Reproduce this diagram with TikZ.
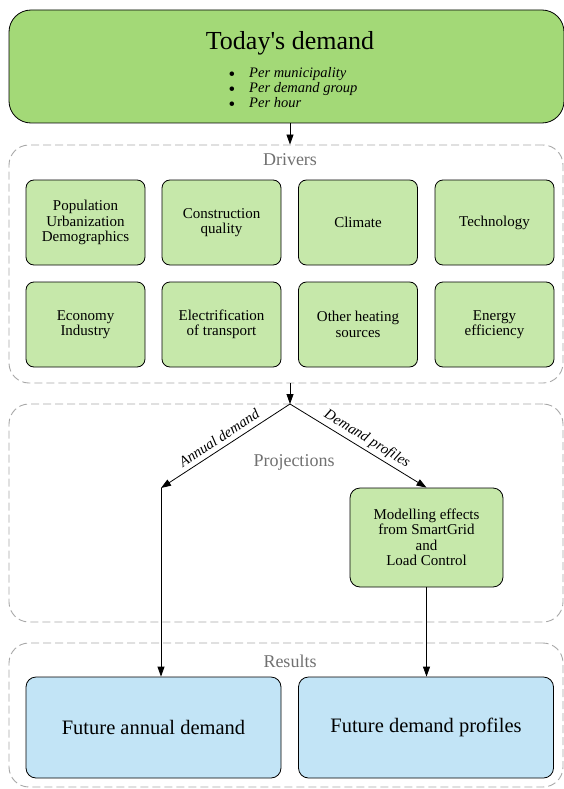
\documentclass[tikz,border=0pt]{standalone}
\usepackage{fontspec}
\setmainfont{Liberation Serif}
\newfontfamily\plainserif{Liberation Serif}
\usetikzlibrary{arrows.meta}
\definecolor{topgreen}{HTML}{A3D977}
\definecolor{drvgreen}{HTML}{C6E8AA}
\definecolor{resblue}{HTML}{C2E4F6}
\definecolor{clustergray}{HTML}{A8A8A8}
\definecolor{labelgray}{HTML}{707070}
% one bulleted line of the demand list
\newcommand{\demanditem}[1]{\makebox[20.5pt][l]{\raisebox{-2.5pt}{\fontsize{19}{15}\selectfont\textbullet}}\textit{#1}}
\begin{document}
\begin{tikzpicture}[x=1pt,y=-1pt,
  arr/.style={-{Triangle[length=10pt,width=7pt]}, line width=0.8pt},
  cluster/.style={draw=clustergray, dash pattern=on 8pt off 4pt, line width=0.9pt,
    rounded corners=20pt, minimum width=554pt, inner sep=0pt},
  clusterlabel/.style={text=labelgray, font=\fontsize{18}{20}\selectfont},
  drvbox/.style={draw, line width=0.8pt, fill=drvgreen, rounded corners=8pt,
    minimum width=119pt, minimum height=85pt, inner sep=0pt, align=center,
    font=\fontsize{15}{15.5}\selectfont},
  resbox/.style={draw, line width=0.8pt, fill=resblue, rounded corners=10pt,
    minimum width=255pt, minimum height=101pt, inner sep=0pt,
    font=\fontsize{20.5}{22}\selectfont},
  edgelabel/.style={font=\itshape\fontsize{14.7}{16}\selectfont, inner sep=0pt}
]
\useasboundingbox (0,0) rectangle (564,789);

% dashed clusters
\node[cluster, minimum height=238pt] (drivers) at (286,264) {};
\node[cluster, minimum height=218pt] (proj) at (286,513) {};
\node[cluster, minimum height=144pt] (results) at (286,715) {};
\node[clusterlabel] (drvlabel) at (290,160) {Drivers};
\node[clusterlabel] (projlabel) at (294,462) {Projections};
\node[clusterlabel] (reslabel) at (290,661) {Results};

% today's demand
\node[draw, line width=0.8pt, fill=topgreen, rounded corners=22pt,
  minimum width=555pt, minimum height=113pt, inner sep=0pt] (top) at (286.5,66.5) {};
\node[font=\plainserif\fontsize{26}{28}\selectfont] (title) at (290,43) {Today's demand};
\node[anchor=west, align=left, inner sep=0pt, font=\fontsize{14.5}{15}\selectfont] (list) at (228.5,89)
  {\demanditem{Per municipality}\\
   \demanditem{Per demand group}\\
   \demanditem{Per hour}};

% drivers
\node[drvbox] (pop) at (85.5,222.5) {Population\\Urbanization\\Demographics};
\node[drvbox] (constr) at (221.5,222.5) {Construction\\quality};
\node[drvbox] (climate) at (358,222.5) {Climate};
\node[drvbox] (tech) at (494.5,222.5) {Technology};
\node[drvbox] (econ) at (85.5,324.5) {Economy\\Industry};
\node[drvbox] (elec) at (221.5,324.5) {Electrification\\of transport};
\node[drvbox] (heat) at (358,324.5) {Other heating\\sources};
\node[drvbox] (eff) at (494.5,324.5) {Energy\\efficiency};

% projections
\coordinate (split) at (290,404);
\coordinate (annual) at (161,488);
\node[drvbox, minimum width=153pt, minimum height=99pt, rounded corners=10pt] (model)
  at (426.5,537.5) {Modelling effects\\from SmartGrid\\and\\Load Control};

% results
\node[resbox] (fad) at (153.5,727.5) {Future annual demand};
\node[resbox] (fdp) at (426,727.5) {Future demand profiles};

% connectors
\draw[arr] (top.south -| split) -- (drivers.north -| split);
\draw[arr] (drivers.south -| split) -- (split);
\draw[arr] (split) -- (annual);
\draw[arr] (split) -- (model.north);
\draw[arr] (annual) -- (fad.north -| annual);
\draw[arr] (model.south) -- (fdp.north -| model.south);

% connector labels
\node[edgelabel, rotate=33.3] (lannual) at (219,438) {Annual demand};
\node[edgelabel, rotate=-31.5] (lprof) at (367,439) {Demand profiles};
\end{tikzpicture}
\end{document}
